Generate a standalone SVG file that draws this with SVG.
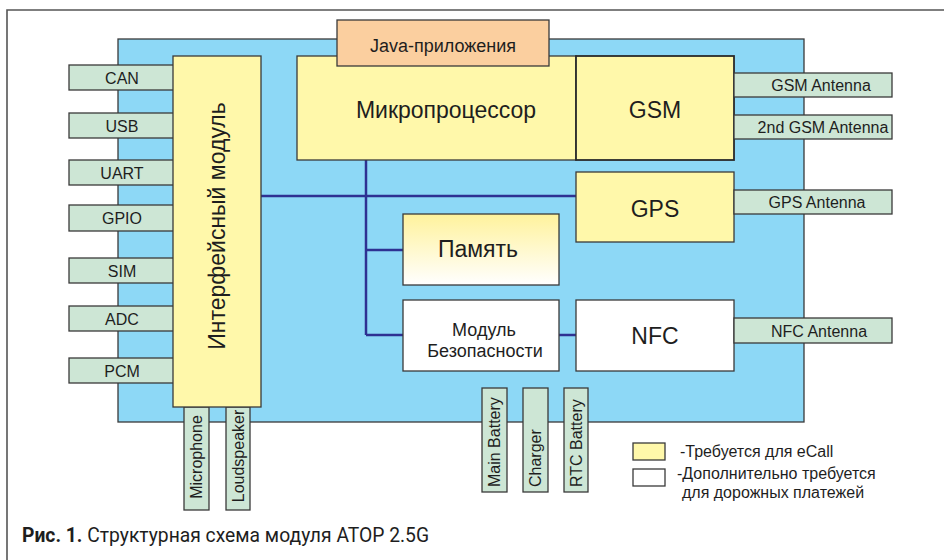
<svg xmlns="http://www.w3.org/2000/svg" width="944" height="560" viewBox="0 0 944 560">
<defs>
<linearGradient id="memg" x1="0" y1="0" x2="0" y2="1">
<stop offset="0" stop-color="#fff29c"/>
<stop offset="1" stop-color="#ffffff"/>
</linearGradient>
<style>
.box{stroke:#3a3a3a;stroke-width:1.3}
.y{fill:#fff8aa}
.w{fill:#ffffff}
.g{fill:#cde6d5}
.t{font-family:"Liberation Sans",Arial,sans-serif;fill:#1e1e1e}
.port{font-size:16px;text-anchor:middle}
.big{font-size:23px;text-anchor:middle}
.conn{stroke:#2e3192;stroke-width:2.5;fill:none}
</style>
</defs>
<rect x="0" y="0" width="944" height="560" fill="#ffffff"/>
<path d="M7 560 V10 H944" fill="none" stroke="#555" stroke-width="1.6"/>
<g id="panel"><rect x="118" y="39" width="686" height="383" fill="#8dd8f6" stroke="#3a3a3a" stroke-width="1.3"/></g>

<g id="connectors">
<line class="conn" x1="261" y1="196" x2="576" y2="196"/>
<line class="conn" x1="366" y1="160" x2="366" y2="335"/>
<line class="conn" x1="366" y1="250" x2="403" y2="250"/>
<line class="conn" x1="366" y1="335" x2="403" y2="335"/>
<line class="conn" x1="559" y1="335" x2="576" y2="335"/>
</g>

<g id="port-can"><rect class="box g" x="69" y="65" width="105" height="25"/><text class="t port" x="122" y="83.5">CAN</text></g>
<g id="port-usb"><rect class="box g" x="69" y="113" width="105" height="25"/><text class="t port" x="122" y="131.5">USB</text></g>
<g id="port-uart"><rect class="box g" x="69" y="160" width="105" height="25"/><text class="t port" x="122" y="178.5">UART</text></g>
<g id="port-gpio"><rect class="box g" x="69" y="205" width="105" height="26"/><text class="t port" x="122" y="224">GPIO</text></g>
<g id="port-sim"><rect class="box g" x="69" y="258" width="105" height="25"/><text class="t port" x="122" y="276.5">SIM</text></g>
<g id="port-adc"><rect class="box g" x="69" y="306" width="105" height="25"/><text class="t port" x="122" y="324.5">ADC</text></g>
<g id="port-pcm"><rect class="box g" x="69" y="358" width="105" height="25"/><text class="t port" x="122" y="376.5">PCM</text></g>

<g id="port-mic"><rect class="box g" x="184" y="407" width="25" height="103"/><text class="t port" transform="translate(196.5 457) rotate(-90)" dominant-baseline="central">Microphone</text></g>
<g id="port-spk"><rect class="box g" x="226" y="407" width="24" height="103"/><text class="t port" transform="translate(238 456) rotate(-90)" dominant-baseline="central">Loudspeaker</text></g>

<g id="interface"><rect class="box y" x="173" y="56" width="88" height="351"/><text class="t big" transform="translate(217 226) rotate(-90)" dominant-baseline="central">Интерфейсный модуль</text></g>

<g id="cpu"><rect class="box y" x="297" y="56" width="279" height="104"/><text class="t big" x="446" y="118">Микропроцессор</text></g>
<g id="gsm"><rect class="y" x="576" y="56" width="158" height="104" stroke="#2a2a2a" stroke-width="1.8"/><text class="t big" x="655" y="118">GSM</text></g>
<g id="java"><rect class="box" x="337" y="20" width="212" height="46" fill="#fbcf9f"/><text class="t" x="443" y="52" font-size="18" text-anchor="middle">Java-приложения</text></g>
<g id="gps"><rect class="box y" x="576" y="172" width="158" height="70"/><text class="t big" x="655" y="217">GPS</text></g>
<g id="memory"><rect class="box" x="403" y="214" width="156" height="71" fill="url(#memg)"/><text class="t big" x="478" y="257">Память</text></g>
<g id="security"><rect class="box w" x="403" y="300" width="156" height="71"/><text class="t" font-size="18" text-anchor="middle"><tspan x="484" y="336">Модуль</tspan><tspan x="485" y="357">Безопасности</tspan></text></g>
<g id="nfc"><rect class="box w" x="576" y="300" width="158" height="71"/><text class="t big" x="655" y="344">NFC</text></g>

<g id="ant-gsm"><rect class="box g" x="734" y="73" width="158" height="24"/><text class="t port" x="821" y="91">GSM Antenna</text></g>
<g id="ant-gsm2"><rect class="box g" x="734" y="115" width="158" height="24"/><text class="t port" x="823" y="133">2nd GSM Antenna</text></g>
<g id="ant-gps"><rect class="box g" x="734" y="190" width="158" height="24"/><text class="t port" x="817" y="208">GPS Antenna</text></g>
<g id="ant-nfc"><rect class="box g" x="734" y="318" width="158" height="25"/><text class="t port" x="819" y="336.5">NFC Antenna</text></g>

<g id="port-main"><rect class="box g" x="482" y="388" width="25" height="104"/><text class="t" font-size="16" transform="translate(494.5 487) rotate(-90)" dominant-baseline="central">Main Battery</text></g>
<g id="port-charger"><rect class="box g" x="523" y="388" width="25" height="104"/><text class="t" font-size="16" transform="translate(535.5 487) rotate(-90)" dominant-baseline="central">Charger</text></g>
<g id="port-rtc"><rect class="box g" x="564" y="388" width="24" height="104"/><text class="t" font-size="16" transform="translate(576 487) rotate(-90)" dominant-baseline="central">RTC Battery</text></g>

<g id="legend">
<rect class="box y" x="633" y="443" width="32" height="17"/>
<rect class="box w" x="633" y="469" width="32" height="17"/>
<text class="t" font-size="16" x="680" y="457">-Требуется для eCall</text>
<text class="t" font-size="16" x="677" y="479">-Дополнительно требуется</text>
<text class="t" font-size="16" x="682" y="498">для дорожных платежей</text>
</g>

<g id="caption"><text font-family="Roboto,'Liberation Sans',sans-serif" font-size="19.3" fill="#1e1e1e" x="22" y="542"><tspan font-weight="bold">Рис. 1.</tspan> Структурная схема модуля ATOP 2.5G</text></g>
</svg>
